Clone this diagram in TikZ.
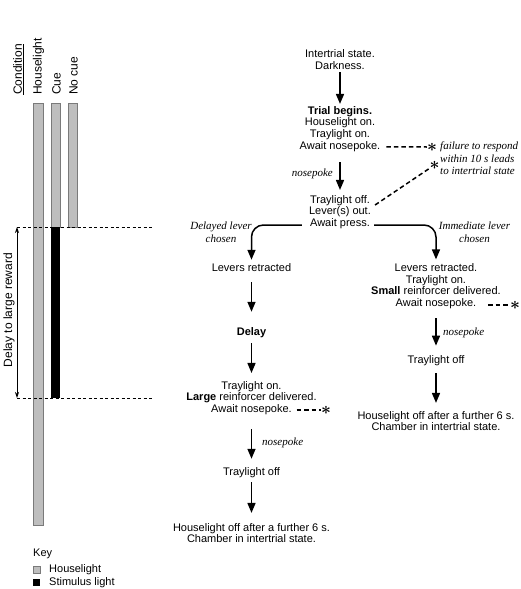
\documentclass[tikz,border=0pt]{standalone}
\usepackage{fontspec}
\setmainfont{Liberation Sans}
\newfontfamily\serifit{Liberation Serif}
\usetikzlibrary{arrows.meta,calc}
\definecolor{barg}{HTML}{BEBEBE}
\definecolor{bard}{HTML}{7A7A7A}
\begin{document}
\begin{tikzpicture}[x=1pt,y=-1pt,
 txt/.style={font=\fontsize{11}{11.7}\selectfont, inner sep=0pt, align=center},
 lab/.style={font=\serifit\itshape\fontsize{11}{12.5}\selectfont, inner sep=0pt},
 flow/.style={line width=1.5pt, -{Triangle[length=10pt,width=8pt]}},
 dsh/.style={line width=1.5pt, dash pattern=on 4.5pt off 3pt},
 guide/.style={line width=0.8pt, dash pattern=on 3pt off 2.5pt},
 bar/.style={fill=barg, draw=bard, line width=0.6pt},
 rot/.style={rotate=90, anchor=west, font=\fontsize{12}{14}\selectfont, inner sep=0pt},
 ast/.style={inner sep=0pt, font=\fontsize{17}{17}\selectfont\boldmath}
]
\useasboundingbox (0,0) rectangle (520,589);

% ---- left panel: bars ----
\draw[bar] (33,103) rectangle (43,525);
\draw[bar] (51,103) rectangle (60,227);
\fill[black] (51,227) rectangle (60,398);
\draw[bar] (68,103) rectangle (77,227);

\node[rot] (cond) at (18.5,95) {\underline{Condition}};
\node[rot] (hl) at (38.5,95) {Houselight};
\node[rot] (cue) at (56.5,95) {Cue};
\node[rot] (nc) at (73.5,95) {No cue};

\coordinate (g1a) at (17,227); \coordinate (g1b) at (152,227);
\coordinate (g2a) at (17,398); \coordinate (g2b) at (152,398);
\draw[guide] (g1a) -- (g1b);
\draw[guide] (g2a) -- (g2b);
\draw[line width=0.8pt, {Stealth[length=6pt,width=4pt]}-{Stealth[length=6pt,width=4pt]}] (g1a) -- (g2a);
\node[rot, anchor=center] (dlr) at (9,310) {Delay to large reward};

% key
\node[txt, anchor=west] (key) at (33,554) {Key};
\draw[bar] (33,566) rectangle (40,573);
\node[txt, anchor=west] (kh) at (49,569.5) {Houselight};
\fill[black] (33,579) rectangle (40,586);
\node[txt, anchor=west] (ks) at (49,582.5) {Stimulus light};

% ---- flow chart ----
\node[txt] (A) at (340,59.5) {Intertrial state.\\Darkness.};
\node[txt] (B) at (340,128.8) {\textbf{Trial begins.}\\Houselight on.\\Traylight on.\\Await nosepoke.};
\node[txt] (C) at (340,212) {Traylight off.\\Lever(s) out.\\Await press.};
\node[txt] (L1) at (251.5,268) {Levers retracted};
\node[txt] (L2) at (251.5,332.6) {\textbf{Delay}};
\node[txt] (L3) at (251.5,398) {Traylight on.\\\textbf{Large} reinforcer delivered.\\Await nosepoke.};
\node[txt] (L4) at (251.5,472.6) {Traylight off};
\node[txt] (L5) at (251.5,533) {Houselight off after a further 6 s.\\Chamber in intertrial state.};
\node[txt] (R1) at (436,286.3) {Levers retracted.\\Traylight on.\\\textbf{Small} reinforcer delivered.\\Await nosepoke.};
\node[txt] (R2) at (436,361) {Traylight off};
\node[txt] (R3) at (436,421) {Houselight off after a further 6 s.\\Chamber in intertrial state.};

\draw[flow, shorten <=2.7pt, shorten >=2pt] (A) -- (B);
\draw[flow, shorten <=10.4pt, shorten >=5pt] (B) -- (C);
\draw[flow, shorten <=10pt, shorten >=15.5pt] (L1) -- (L2);
\draw[flow, shorten <=5.2pt, shorten >=8pt] (L2) -- (L3);
\draw[flow, shorten <=14.3pt, shorten >=8.5pt] (L3) -- (L4);
\draw[flow, shorten <=4.2pt, shorten >=10pt] (L4) -- (L5);
\draw[flow, shorten <=9pt, shorten >=10pt] (R1) -- (R2);
\draw[flow, shorten <=6.7pt, shorten >=8pt] (R2) -- (R3);

\draw[flow, rounded corners=12pt, shorten >=4pt] ($(C.west)+(-7,13)$) -| (L1.north);
\draw[flow, rounded corners=12pt, shorten >=4pt] ($(C.east)+(3,13)$) -| (R1.north);

\node[lab, align=center] (dl) at (221,232) {Delayed lever\\chosen};
\node[lab, align=center] (il) at (474.5,232) {Immediate lever\\chosen};
\node[lab, anchor=east] (np1) at (333,174) {nosepoke};
\node[lab, anchor=west] (np2) at (443,333) {nosepoke};
\node[lab, anchor=west] (np3) at (262,443) {nosepoke};
\node[lab, anchor=west, align=left] (fail) at (440,158.5) {failure to respond\\within 10 s leads\\to intertrial state};

\node[ast] (s1) at (432,147) {$\ast$};
\node[ast] (s2) at (434.5,165) {$\ast$};
\node[ast] (s3) at (326,410) {$\ast$};
\node[ast] (s4) at (515,305) {$\ast$};

\draw[dsh] ($(B.east)+(6,18)$) -- (s1.west);
\draw[dsh] ($(C.east)+(4,-7)$) -- (s2);
\draw[dsh] ($(L3.center)+(45,12)$) -- (s3.west);
\draw[dsh] ($(R1.center)+(52,18.7)$) -- (s4.west);
\end{tikzpicture}
\end{document}
